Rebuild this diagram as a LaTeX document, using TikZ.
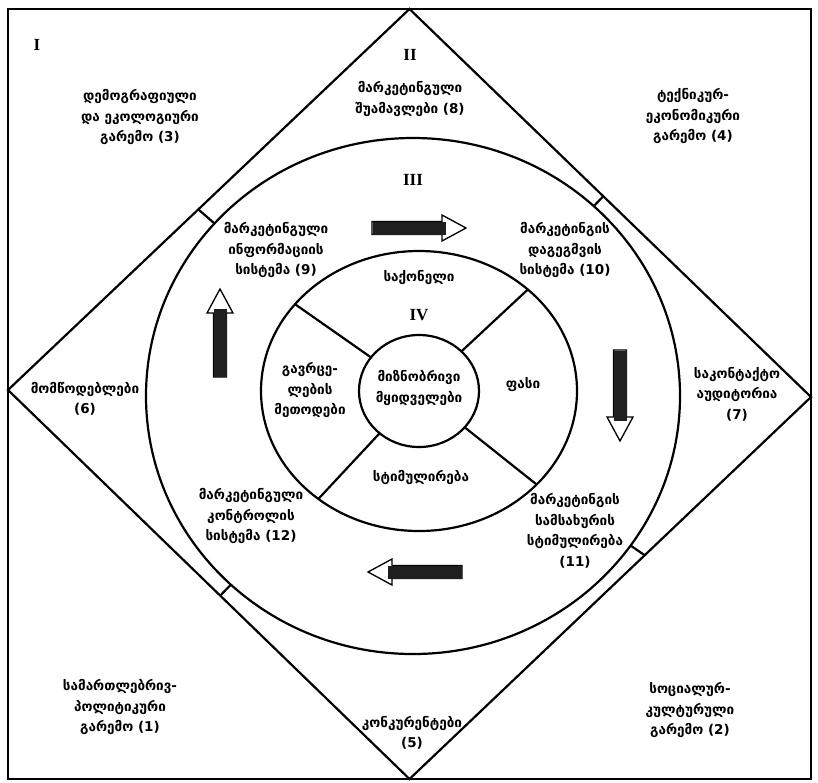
\documentclass[tikz,border=0pt]{standalone}
\usepackage{fontspec}
\setmainfont{Liberation Serif}
\newfontfamily\geo{DejaVu Sans}
\usetikzlibrary{intersections,calc}
\newcommand\blockarrow[4]{% x, y, rotate, length
  \begin{scope}[shift={(#1,#2)},rotate=#3]
    \path[draw=black,fill=white,line width=1.3pt,line join=miter]
      (0,-6.5) -- (#4-24,-6.5) -- (#4-24,-13) -- (#4,0) -- (#4-24,13) -- (#4-24,6.5) -- (0,6.5) -- cycle;
    \fill[black!88] (0.5,-6.5) rectangle (#4-20,6.5);
  \end{scope}}
\begin{document}
\begin{tikzpicture}[x=1pt,y=-1pt,
  lbl/.style={align=center,inner sep=0pt,font=\geo\bfseries\fontsize{13.5}{20.5}\selectfont},
  roman/.style={inner sep=0pt,font=\bfseries\fontsize{17}{17}\selectfont},
  line/.style={line width=2.2pt}]
\useasboundingbox (0,0) rectangle (818,782);
\fill[white] (0,0) rectangle (818,782);
% frame and diamond
\draw[line] (8,9) rectangle (811,779);
\draw[line,name path=diamond] (409.5,9) -- (811,397) -- (409.5,779) -- (8,390) -- cycle;
\coordinate (Cb) at (413,396);
\coordinate (Cr) at (419,391);
% ellipses
\draw[line,name path=big] (Cb) ellipse[x radius=267,y radius=258];
\draw[line,name path=ring] (Cr) ellipse[x radius=158,y radius=140];
\draw[line,name path=inner] (Cr) ellipse[x radius=60,y radius=56];
% dividers (polar angles are mirrored because y points down)
\foreach \a in {-145,-43,38.5,133}{
  \path[name path=dray] (Cr) -- ($(Cr)+(\a:220)$);
  \path[name intersections={of=inner and dray,by=A}];
  \path[name intersections={of=ring and dray,by=B}];
  \draw[line] (A) -- (B);
}
% ticks between big circle and diamond
\foreach \a in {-46.4,-139,134,34.5}{
  \path[name path=tray] (Cb) -- ($(Cb)+(\a:340)$);
  \path[name intersections={of=big and tray,by=P}];
  \path[name intersections={of=diamond and tray,by=Q}];
  \draw[line] (P) -- (Q);
}
% block arrows
\blockarrow{372}{228}{0}{94}
\blockarrow{620}{350}{-90}{91}
\blockarrow{462}{572}{180}{94}
\blockarrow{220}{377}{90}{88}
% roman numerals
\node[roman] (rI) at (37,45) {I};
\node[roman] (rII) at (410,55) {II};
\node[roman] (rIII) at (413,180) {III};
\node[roman] (rIV) at (419,315) {IV};
% labels
\node[lbl] (n3) at (140,117) {დემოგრაფიული\\და ეკოლოგიური\\გარემო (3)};
\node[lbl] (n8) at (410,99) {მარკეტინგული\\შუამავლები (8)};
\node[lbl] (n4) at (693,116) {ტექნიკურ-\\ეკონომიკური\\გარემო (4)};
\node[lbl] (n9) at (276,250) {მარკეტინგული\\ინფორმაციის\\სისტემა (9)};
\node[lbl] (n10) at (565,250) {მარკეტინგის\\დაგეგმვის\\სისტემა (10)};
\node[lbl] (prod) at (419,278) {საქონელი};
\node[lbl] (target) at (419,388) {მიზნობრივი\\მყიდველები};
\node[lbl] (dist) at (310,390) {გავრცე-\\ლების\\მეთოდები};
\node[lbl] (price) at (523,385) {ფასი};
\node[lbl] (promo) at (421,477) {სტიმულირება};
\node[lbl] (n12) at (251,516) {მარკეტინგული\\კონტროლის\\სისტემა (12)};
\node[lbl] (n11) at (575,531) {მარკეტინგის\\სამსახურის\\სტიმულირება\\(11)};
\node[lbl] (n6) at (85,399) {მომწოდებლები\\(6)};
\node[lbl] (n7) at (737,394) {საკონტაქტო\\აუდიტორია\\(7)};
\node[lbl] (n1) at (120,707) {სამართლებრივ-\\პოლიტიკური\\გარემო (1)};
\node[lbl] (n2) at (690,710) {სოციალურ-\\კულტურული\\გარემო (2)};
\node[lbl] (n5) at (412,733) {კონკურენტები\\(5)};
\end{tikzpicture}
\end{document}
